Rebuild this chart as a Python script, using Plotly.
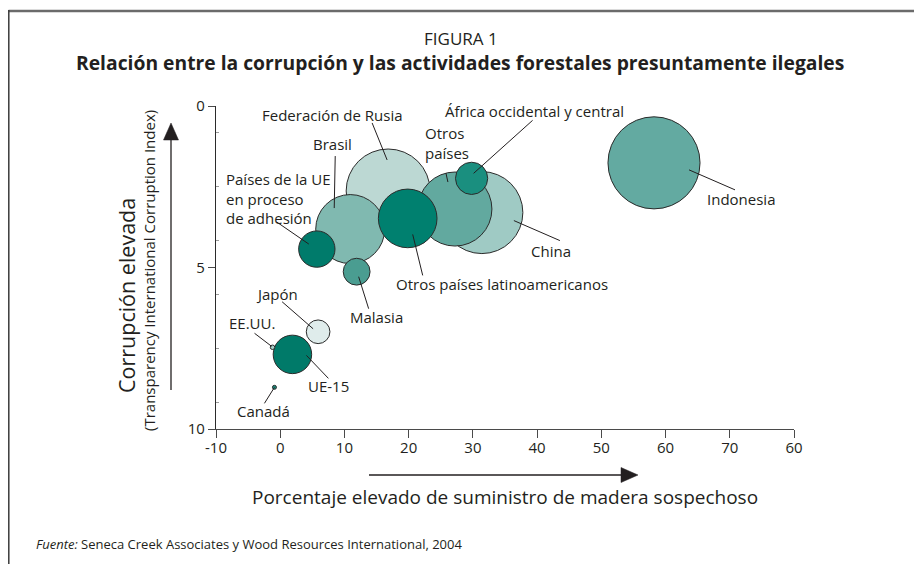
import plotly.graph_objects as go

# ---------------- data ----------------
paises = [
    "Indonesia", "China", "Federación de Rusia", "Otros países", "Brasil",
    "Otros países latinoamericanos", "Países de la UE en proceso de adhesión",
    "Malasia", "África occidental y central", "Japón", "UE-15", "EE.UU.", "Canadá",
]
madera_sospechosa = [58.2, 31.4, 16.8, 27.2, 10.9, 19.85, 5.7, 11.9, 29.8, 5.9, 1.9, -1.2, -0.9]
indice_corrupcion = [1.76, 3.30, 2.63, 3.19, 3.81, 3.48, 4.43, 5.13, 2.24, 6.99, 7.69, 7.47, 8.71]
volumen = [212, 168, 176, 137, 119, 86, 33, 18, 26, 14, 37, 0.5, 0.4]

x_tickvals = [-10, 0, 10, 20, 30, 40, 50, 60, 70, 80]
x_ticktext = ["-10", "0", "10", "20", "30", "40", "50", "60", "70", "60"]
y_tickvals = [0, 5, 10]
y_ticktext = ["0", "5", "10"]

# ---------------- styles ----------------
colores = {
    "Indonesia": "#63aaa1", "China": "#9fcac4", "Federación de Rusia": "#bcd8d3",
    "Otros países": "#62a99f", "Brasil": "#80b9b0",
    "Otros países latinoamericanos": "#00806f",
    "Países de la UE en proceso de adhesión": "#007b6b", "Malasia": "#4a9d91",
    "África occidental y central": "#1a8f7f", "Japón": "#dfeceb",
    "UE-15": "#007a69", "EE.UU.": "#a8d0c9", "Canadá": "#198f7f",
}

# label text, text offset (px, y down), anchor, leader line tail & tip offsets (px, y down)
etiquetas = {
    "Federación de Rusia": ("Federación de Rusia", (-56, -76), "center", (-16, -68), (-1, -31)),
    "Brasil": ("Brasil", (-18, -85), "center", (-15, -73), (-16, -21)),
    "Países de la UE en proceso de adhesión": ("Países de la UE<br>en proceso<br>de adhesión", (-93, -51), "left", (-40, -27), (-8, -5)),
    "Malasia": ("Malasia", (20, 45), "center", (12, 37), (2, 5)),
    "Otros países latinoamericanos": ("Otros países latinoamericanos", (94, 66), "center", (15, 57), (5, 16)),
    "Otros países": ("Otros<br>países", (-32, -66), "left", (-9, -36), (-7, -27)),
    "China": ("China", (69, 38), "center", (78, 28), (32, 8)),
    "África occidental y central": ("África occidental y central", (63, -67), "center", (61, -58), (2, -5)),
    "Indonesia": ("Indonesia", (87, 36), "center", (81, 27), (35, 7)),
    "Japón": ("Japón", (-41, -38), "center", (-36, -30), (-5, -3)),
    "EE.UU.": ("EE.UU.", (-21, -24), "center", (-18, -14), (-1, -1)),
    "UE-15": ("UE-15", (36, 32), "center", (36, 24), (14, 1)),
    "Canadá": ("Canadá", (-11, 24), "center", (-10, 16), (0, 0)),
}

FONT = "Open Sans"
TXT = "#231f20"
OFF = 8                       # page body margin
W, H = 922 - OFF, 564 - OFF   # figure size
L, R, T, B = 216, 794, 106, 429   # plot area in page pixels


def pxx(v):
    return (v - L) / (R - L)


def pxy(v):
    return (B - v) / (B - T)


fig = go.Figure()
fig.add_trace(go.Scatter(
    x=madera_sospechosa, y=indice_corrupcion, mode="markers",
    text=paises, hoverinfo="text",
    marker=dict(size=volumen, sizemode="area", sizeref=0.05,
                color=[colores[p] for p in paises],
                line=dict(color="#2b2b2b", width=1), opacity=1),
    showlegend=False,
))

annotations = []
shapes = []
for p, xv, yv in zip(paises, madera_sospechosa, indice_corrupcion):
    txt, (tdx, tdy), anc, (ax0, ay0), (ax1, ay1) = etiquetas[p]
    annotations.append(dict(
        x=xv, y=yv, xref="x", yref="y", text=txt, showarrow=False,
        xshift=tdx, yshift=-tdy, xanchor=anc, yanchor="middle", align=anc,
        font=dict(family=FONT, size=15, color=TXT),
    ))
    shapes.append(dict(
        type="line", xref="x", yref="y", xsizemode="pixel", ysizemode="pixel",
        xanchor=xv, yanchor=yv, x0=ax0, y0=-ay0, x1=ax1, y1=-ay1,
        line=dict(color="#231f20", width=1), layer="above",
    ))


def paper_text(text, xp, yp, size, bold=False, xanchor="center", textangle=0):
    annotations.append(dict(
        x=pxx(xp), y=pxy(yp), xref="paper", yref="paper", text=text,
        showarrow=False, xanchor=xanchor, yanchor="middle", textangle=textangle,
        font=dict(family=FONT, size=size, color=TXT,
                  weight=700 if bold else 400),
    ))


paper_text("FIGURA 1", 461, 38.5, 17)
paper_text("Relación entre la corrupción y las actividades forestales presuntamente ilegales", 460, 62.5, 19.3, bold=True)
paper_text("Porcentaje elevado de suministro de madera sospechoso", 505, 497, 19)
paper_text("Corrupción elevada", 126, 296, 21.5, textangle=-90)
paper_text("(Transparency International Corruption Index)", 149, 271, 15, textangle=-90)
paper_text("<i>Fuente:</i> Seneca Creek Associates y Wood Resources International, 2004", 34, 544, 13, xanchor="left")


def pline(x0, y0, x1, y1, color, width):
    shapes.append(dict(type="line", xref="paper", yref="paper",
                       x0=pxx(x0), y0=pxy(y0), x1=pxx(x1), y1=pxy(y1),
                       line=dict(color=color, width=width), layer="above"))


def ptri(pts, color):
    path = "M " + " L ".join(f"{pxx(a)},{pxy(b)}" for a, b in pts) + " Z"
    shapes.append(dict(type="path", xref="paper", yref="paper", path=path,
                       fillcolor=color, line=dict(color=color, width=0.5), layer="above"))


# frame
pline(8.6, 11, 922, 11, "#6b6b6b", 2.5)
pline(8.8, 10, 8.8, 564, "#3a3a3a", 1.5)
# axis arrows
pline(171, 390, 171, 138, "#231f20", 1.3)
ptri([(171, 123), (163.5, 140), (178.5, 140)], "#231f20")
pline(369, 475, 623, 475, "#231f20", 1.3)
ptri([(638, 475), (621, 467.5), (621, 482.5)], "#231f20")

fig.update_layout(
    width=W, height=H,
    margin=dict(l=L - OFF, r=W - (R - OFF), t=T - OFF, b=H - (B - OFF), pad=0),
    paper_bgcolor="white", plot_bgcolor="white",
    font=dict(family=FONT, color=TXT),
    annotations=annotations, shapes=shapes,
    xaxis=dict(range=[-10, 80], tickvals=x_tickvals, ticktext=x_ticktext,
               showgrid=False, zeroline=False, showline=True,
               linecolor="#4a4a4a", linewidth=1.3,
               ticks="outside", ticklen=8, tickwidth=1.3, tickcolor="#4a4a4a",
               ticklabelstandoff=-3,
               tickfont=dict(family=FONT, size=15, color=TXT)),
    yaxis=dict(range=[10, 0], tickvals=y_tickvals, ticktext=y_ticktext,
               showgrid=False, zeroline=False, showline=True,
               linecolor="#2b2b2b", linewidth=1.3,
               ticks="outside", ticklen=7, tickwidth=1.3, tickcolor="#4a4a4a",
               tickfont=dict(family=FONT, size=15, color=TXT),
               minor=dict(tickvals=[0.833, 2.5, 4.167, 5.833, 7.5, 9.167],
                          ticks="inside", ticklen=3, tickcolor="#9a9a9a", tickwidth=1)),
)

fig.write_html("out.html")
